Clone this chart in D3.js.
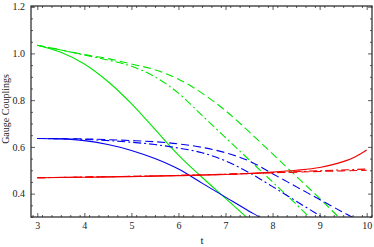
<!DOCTYPE html>
<html>
<head>
<meta charset="utf-8">
<script src="https://cdn.jsdelivr.net/npm/d3@7"></script>
<style>
  body { margin: 0; background: #fff; }
  text { font-family: "Liberation Serif", "DejaVu Serif", serif; fill: #222; }
</style>
</head>
<body>
<svg width="374" height="247"></svg>
<script>
// data
const tGreenSolid = [3, 3.5, 4, 4.5, 5, 5.5, 6, 6.5, 7, 7.5, 7.7];
const gGreenSolid = [1.035, 1.005, 0.955, 0.88, 0.785, 0.675, 0.565, 0.47, 0.38, 0.29, 0.255];
const tGreenDash = [3, 3.5, 4, 4.5, 5, 5.5, 6, 6.5, 7, 7.5, 8, 8.5, 9, 9.4, 9.6];
const gGreenDash = [1.035, 1.015, 0.995, 0.978, 0.955, 0.93, 0.89, 0.83, 0.755, 0.665, 0.57, 0.475, 0.38, 0.30, 0.26];
const tGreenDotDash = [3, 3.5, 4, 4.5, 5, 5.5, 6, 6.5, 7, 7.5, 8, 8.5, 8.78, 9];
const gGreenDotDash = [1.035, 1.015, 0.993, 0.972, 0.945, 0.90, 0.83, 0.735, 0.64, 0.545, 0.45, 0.355, 0.30, 0.26];

const tBlueSolid = [3, 3.5, 4, 4.5, 5, 5.5, 6, 6.5, 7, 7.5, 7.72, 8];
const gBlueSolid = [0.636, 0.634, 0.627, 0.61, 0.585, 0.55, 0.505, 0.445, 0.385, 0.325, 0.30, 0.265];
const tBlueDash = [3, 4, 5, 5.5, 6, 6.5, 7, 7.5, 8, 8.5, 9, 9.5, 9.69, 9.9];
const gBlueDash = [0.636, 0.634, 0.627, 0.622, 0.613, 0.598, 0.575, 0.54, 0.485, 0.43, 0.375, 0.32, 0.30, 0.277];
const tBlueDotDash = [3, 4, 5, 5.5, 6, 6.5, 7, 7.5, 8, 8.5, 9, 9.05, 9.3];
const gBlueDotDash = [0.636, 0.632, 0.62, 0.61, 0.595, 0.575, 0.54, 0.49, 0.43, 0.368, 0.306, 0.30, 0.27];

const tRedSolid = [3, 4, 5, 6, 7, 7.5, 8, 8.5, 9, 9.5, 9.75, 10];
const gRedSolid = [0.468, 0.470, 0.473, 0.477, 0.482, 0.486, 0.492, 0.500, 0.512, 0.537, 0.557, 0.587];
const tRedDash = [3, 4, 5, 6, 7, 8, 9, 10];
const gRedDash = [0.468, 0.471, 0.474, 0.478, 0.483, 0.489, 0.495, 0.500];
const tRedDotDash = [3, 4, 5, 6, 7, 8, 9, 10];
const gRedDotDash = [0.468, 0.471, 0.474, 0.478, 0.483, 0.490, 0.498, 0.505];

const xTicks = [3, 4, 5, 6, 7, 8, 9, 10];
const yTicks = [0.4, 0.6, 0.8, 1.0, 1.2];

const svg = d3.select('svg');
const plotL = 31, plotR = 372, plotT = 6, plotB = 217;

const x = d3.scaleLinear().domain([2.866, 10.113]).range([plotL, plotR]);
const y = d3.scaleLinear().domain([0.3, 1.2]).range([plotB, 6.7]);

const series = [
  { t: tGreenSolid, g: gGreenSolid, color: '#00e600', dash: null },
  { t: tGreenDash, g: gGreenDash, color: '#00e600', dash: '8,4' },
  { t: tGreenDotDash, g: gGreenDotDash, color: '#00e600', dash: '8,3,2,3' },
  { t: tBlueSolid, g: gBlueSolid, color: '#0000f0', dash: null },
  { t: tBlueDash, g: gBlueDash, color: '#0000f0', dash: '8,4' },
  { t: tBlueDotDash, g: gBlueDotDash, color: '#0000f0', dash: '8,3,2,3' },
  { t: tRedSolid, g: gRedSolid, color: '#f00000', dash: null },
  { t: tRedDash, g: gRedDash, color: '#f00000', dash: '8,4' },
  { t: tRedDotDash, g: gRedDotDash, color: '#f00000', dash: '8,3,2,3' }
];

svg.append('clipPath').attr('id', 'plot')
  .append('rect').attr('x', plotL).attr('y', plotT)
  .attr('width', plotR - plotL).attr('height', plotB - plotT);

const line = d3.line()
  .x(d => x(d[0]))
  .y(d => y(d[1]))
  .curve(d3.curveMonotoneX);

svg.append('g').attr('clip-path', 'url(#plot)')
  .selectAll('path')
  .data(series)
  .enter().append('path')
  .attr('d', s => line(s.t.map((t, i) => [t, s.g[i]])))
  .attr('fill', 'none')
  .attr('stroke', s => s.color)
  .attr('stroke-width', 1.1)
  .attr('stroke-dasharray', s => s.dash);

// minor ticks
const xMinor = d3.range(2.9, 10.11, 0.2).map(v => +v.toFixed(1)).filter(v => !xTicks.includes(v));
const yMinor = d3.range(0.3, 1.201, 0.05).map(v => +v.toFixed(2)).filter(v => !yTicks.includes(v));

function styleAxis(g) {
  g.select('.domain').remove();
  g.selectAll('line').attr('stroke', '#333').attr('stroke-width', 0.8);
  g.selectAll('text').style('font-family', '"Liberation Serif", serif').style('font-size', '10px').attr('fill', '#222');
}

svg.append('g').attr('transform', `translate(0,${plotB})`)
  .call(d3.axisBottom(x).tickValues(xTicks).tickSize(-4).tickPadding(5).tickFormat(d3.format('d')))
  .call(styleAxis);
svg.append('g').attr('transform', `translate(0,${plotB})`)
  .call(d3.axisBottom(x).tickValues(xMinor).tickSize(-2).tickFormat(''))
  .call(styleAxis);
svg.append('g').attr('transform', `translate(0,${plotT})`)
  .call(d3.axisTop(x).tickValues(xTicks).tickSize(-4).tickFormat(''))
  .call(styleAxis);
svg.append('g').attr('transform', `translate(0,${plotT})`)
  .call(d3.axisTop(x).tickValues(xMinor).tickSize(-2).tickFormat(''))
  .call(styleAxis);

svg.append('g').attr('transform', `translate(${plotL},0)`)
  .call(d3.axisLeft(y).tickValues(yTicks).tickSize(-4).tickPadding(6).tickFormat(d3.format('.1f')))
  .call(styleAxis);
svg.append('g').attr('transform', `translate(${plotL},0)`)
  .call(d3.axisLeft(y).tickValues(yMinor).tickSize(-2).tickFormat(''))
  .call(styleAxis);
svg.append('g').attr('transform', `translate(${plotR},0)`)
  .call(d3.axisRight(y).tickValues(yTicks).tickSize(-4).tickFormat(''))
  .call(styleAxis);
svg.append('g').attr('transform', `translate(${plotR},0)`)
  .call(d3.axisRight(y).tickValues(yMinor).tickSize(-2).tickFormat(''))
  .call(styleAxis);

// frame
svg.append('rect')
  .attr('x', plotL).attr('y', plotT)
  .attr('width', plotR - plotL).attr('height', plotB - plotT)
  .attr('fill', 'none').attr('stroke', '#222').attr('stroke-width', 1.2);

// axis titles
svg.append('text')
  .attr('x', 202).attr('y', 244)
  .attr('text-anchor', 'middle')
  .style('font-size', '11px')
  .text('t');

svg.append('text')
  .attr('transform', 'translate(9,109) rotate(-90)')
  .attr('text-anchor', 'middle')
  .style('font-size', '10px')
  .text('Gauge Couplings');
</script>
</body>
</html>
